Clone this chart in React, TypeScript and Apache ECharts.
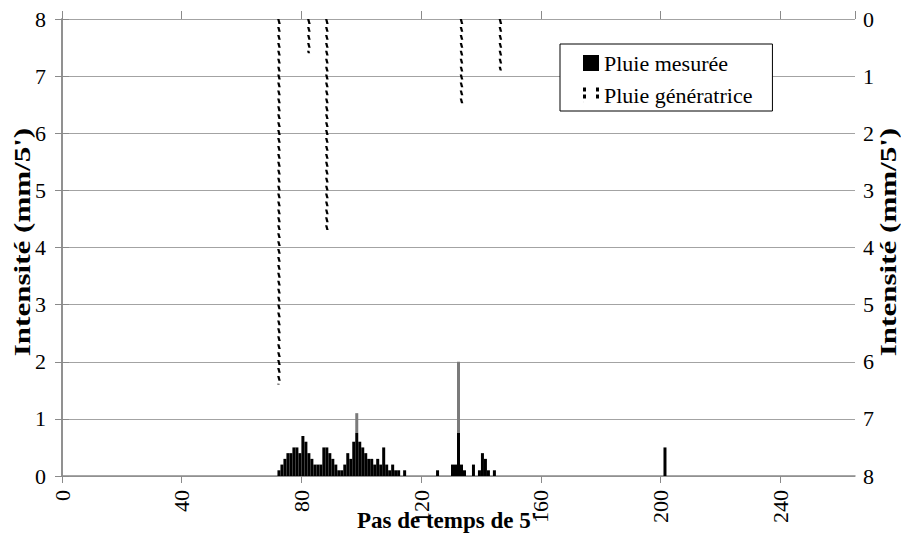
import React, { useEffect, useRef } from "react";
import * as echarts from "echarts";

// ---- data (time steps of 5 minutes, intensity in mm/5') ----
const xTicks = [0, 40, 80, 120, 160, 200, 240];
const yTicks = [0, 1, 2, 3, 4, 5, 6, 7, 8];

// measured rain: contiguous run starting at step 72
const measuredRunStart = 72;
const measuredRun = [
  0.1, 0.2, 0.3, 0.4, 0.4, 0.5, 0.5, 0.4, 0.7, 0.6, 0.4, 0.3, 0.2, 0.2, 0.2,
  0.5, 0.5, 0.4, 0.3, 0.2, 0.1, 0.1,
  0.2, 0.4, 0.3, 0.6, 1.1, 0.6, 0.5, 0.4, 0.3, 0.3, 0.2, 0.3, 0.2, 0.5, 0.2,
  0.1, 0.2, 0.1, 0.1, 0, 0.1,
];
// measured rain: isolated steps
const measuredSteps = [125, 130, 131, 132, 133, 134, 137, 139, 140, 141, 142, 144, 201];
const measuredValues = [0.1, 0.2, 0.2, 2.0, 0.2, 0.1, 0.2, 0.1, 0.4, 0.3, 0.1, 0.1, 0.5];

// generating rain (right axis, inverted)
const generatingSteps = [72, 82, 88, 133, 146];
const generatingValues = [6.4, 0.6, 3.7, 1.5, 0.9];

const FONT = "Liberation Serif, Times New Roman, Times, serif";
const AXIS_GREY = "#8a8a8a";
const GRID_GREY = "#a3a3a3";
const DARK_CAP = 0.75; // scanned look: thin tall bars turn grey above this

const DASH_SYMBOL = "path://M1.3,0 L3.6,0 L2.3,5 L0,5 Z";
const LEGEND_DASH_ICON =
  "path://M0,1h3v4h-3z M0,8h3v4h-3z M13,1h3v4h-3z M13,8h3v4h-3z M0,15h0.1v1h-0.1z";

export default function App() {
  const ref = useRef<HTMLDivElement>(null);

  useEffect(() => {
    if (!ref.current) return;
    const chart = echarts.init(ref.current, null, { renderer: "svg" });

    const barItem = (step: number, v: number) => {
      const item: any = { value: [step + 0.5, v] };
      if (v > 0.8) {
        const off = 1 - DARK_CAP / v;
        item.itemStyle = {
          color: new echarts.graphic.LinearGradient(0, 0, 0, 1, [
            { offset: 0, color: "#7a7a7a" },
            { offset: off, color: "#7a7a7a" },
            { offset: off, color: "#000" },
            { offset: 1, color: "#000" },
          ]),
        };
      }
      return item;
    };

    const measuredData: any[] = [];
    measuredRun.forEach((v, i) => {
      if (v > 0) measuredData.push(barItem(measuredRunStart + i, v));
    });
    measuredSteps.forEach((s, i) => measuredData.push(barItem(s, measuredValues[i])));

    const generatingData = generatingSteps.map((s, i) => [s + 0.5, generatingValues[i]]);

    const option: any = {
      animation: false,
      backgroundColor: "#fff",
      textStyle: { fontFamily: FONT },
      grid: { left: 62, right: 46, top: 19, bottom: 63, containLabel: false },
      legend: {
        data: [
          { name: "Pluie mesurée", icon: "rect" },
          { name: "Pluie génératrice", icon: LEGEND_DASH_ICON },
        ],
        orient: "vertical",
        left: 560,
        top: 44,
        itemWidth: 16,
        itemHeight: 16,
        itemGap: 10,
        padding: [8, 20, 5, 23],
        borderColor: "#000",
        borderWidth: 1,
        borderRadius: 0,
        backgroundColor: "#fff",
        textStyle: { fontFamily: FONT, fontSize: 22, color: "#000", lineHeight: 22 },
      },
      xAxis: [
        {
          type: "value",
          min: 0,
          max: 265,
          interval: 40,
          axisLine: { show: true, lineStyle: { color: AXIS_GREY, width: 1.5 } },
          axisTick: { show: true, inside: false, length: 7, lineStyle: { color: AXIS_GREY } },
          axisLabel: {
            rotate: 90,
            margin: 14,
            fontSize: 22,
            fontFamily: FONT,
            color: "#000",
            showMaxLabel: false,
            formatter: (v: number) => (xTicks.includes(v) ? String(v) : ""),
          },
          splitLine: { show: false },
        },
        {
          type: "value",
          min: 0,
          max: 265,
          interval: 40,
          position: "bottom",
          axisLine: { show: false },
          axisTick: { show: true, inside: true, length: 8, lineStyle: { color: AXIS_GREY } },
          axisLabel: { show: false },
          splitLine: { show: false },
        },
      ],
      yAxis: [
        {
          type: "value",
          min: 0,
          max: 8,
          interval: 1,
          axisLine: { show: true, lineStyle: { color: AXIS_GREY, width: 1.5 } },
          axisTick: { show: true, length: 7, lineStyle: { color: AXIS_GREY } },
          axisLabel: {
            margin: 16,
            fontSize: 22,
            fontFamily: FONT,
            color: "#000",
            formatter: (v: number) => (yTicks.includes(v) ? String(v) : ""),
          },
          splitLine: { show: true, lineStyle: { color: GRID_GREY, width: 1 } },
        },
        {
          type: "value",
          position: "right",
          inverse: true,
          min: 0,
          max: 8,
          interval: 1,
          axisLine: { show: true, lineStyle: { color: AXIS_GREY, width: 1.5 } },
          axisTick: { show: true, length: 7, lineStyle: { color: AXIS_GREY } },
          axisLabel: {
            margin: 8,
            fontSize: 22,
            fontFamily: FONT,
            color: "#000",
            formatter: (v: number) => (yTicks.includes(v) ? String(v) : ""),
          },
          splitLine: { show: false },
        },
      ],
      series: [
        {
          name: "Pluie mesurée",
          type: "bar",
          xAxisIndex: 0,
          yAxisIndex: 0,
          barWidth: 3,
          barGap: "-100%",
          itemStyle: { color: "#000" },
          data: measuredData,
        },
        {
          name: "Pluie génératrice",
          type: "pictorialBar",
          xAxisIndex: 0,
          yAxisIndex: 1,
          barWidth: 3.6,
          barGap: "-100%",
          symbol: DASH_SYMBOL,
          symbolSize: [3.6, 5],
          symbolRepeat: true,
          symbolMargin: 1.5,
          symbolClip: true,
          symbolPosition: "start",
          itemStyle: { color: "#000" },
          data: generatingData,
        },
      ],
      graphic: [
        {
          type: "text",
          x: 22,
          y: 242,
          rotation: Math.PI / 2,
          scaleX: 1.35,
          style: {
            text: "Intensité (mm/5')",
            fontFamily: FONT,
            fontSize: 23,
            fontWeight: "bold",
            fill: "#000",
            textAlign: "center",
            textVerticalAlign: "middle",
          },
        },
        {
          type: "text",
          x: 888,
          y: 242,
          rotation: Math.PI / 2,
          scaleX: 1.35,
          style: {
            text: "Intensité (mm/5')",
            fontFamily: FONT,
            fontSize: 23,
            fontWeight: "bold",
            fill: "#000",
            textAlign: "center",
            textVerticalAlign: "middle",
          },
        },
        {
          type: "text",
          x: 447,
          y: 520,
          style: {
            text: "Pas de temps de 5'",
            fontFamily: FONT,
            fontSize: 23,
            fontWeight: "bold",
            fill: "#000",
            textAlign: "center",
            textVerticalAlign: "middle",
          },
        },
      ],
    };

    chart.setOption(option);
    return () => chart.dispose();
  }, []);

  return (
    <div
      ref={ref}
      style={{ position: "fixed", left: 0, top: 0, width: 901, height: 539, background: "#fff" }}
    />
  );
}
